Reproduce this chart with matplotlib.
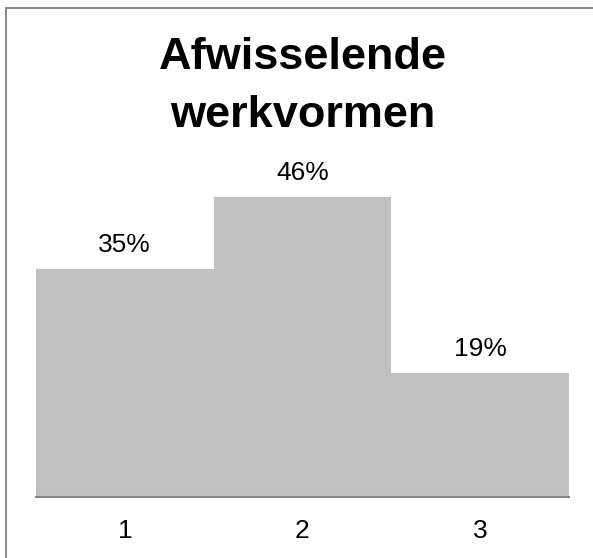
import matplotlib.pyplot as plt
from matplotlib.patches import Rectangle

categories = ["1", "2", "3"]
shares = [0.35, 0.46, 0.19]
value_labels = ["35%", "46%", "19%"]
title_lines = ["Afwisselende", "werkvormen"]

W, H = 593, 558

plt.rcParams["font.family"] = ["Liberation Sans", "DejaVu Sans"]

fig = plt.figure(figsize=(W / 100, H / 100), dpi=100)
fig.patch.set_facecolor("white")

# outer chart frame: only the top and left edges fall inside the image
fig.patches.append(Rectangle((5.5 / W, -0.1), 1.0, 1.1 - 8.5 / H,
                             transform=fig.transFigure, fill=False,
                             edgecolor="#868686", linewidth=1.4))

ax_left, ax_right, ax_bottom, ax_top = 36, 569, 497, 171
ax = fig.add_axes([ax_left / W, 1 - ax_bottom / H,
                   (ax_right - ax_left) / W, (ax_bottom - ax_top) / H])

x = list(range(len(categories)))
ax.bar(x, shares, width=1.0, color="#C0C0C0", edgecolor="none")
ax.set_xlim(-0.5, len(categories) - 0.5)
ax.set_ylim(0, 0.5)

for xi, v, lab in zip(x, shares, value_labels):
    ax.annotate(lab, (xi, v), xytext=(0, 12), textcoords="offset points",
                ha="center", va="baseline", fontsize=19, color="black")

for s in ["left", "right", "top"]:
    ax.spines[s].set_visible(False)
ax.spines["bottom"].set_color("#868686")
ax.spines["bottom"].set_linewidth(1.5)
ax.set_yticks([])
ax.set_xticks(x)
ax.set_xticklabels(categories, fontsize=19)
ax.tick_params(axis="x", length=0, pad=16)

for line, base in zip(title_lines, [69, 127]):
    fig.text(303 / W, 1 - base / H, line, ha="center", va="baseline",
             fontsize=32.5, fontweight="bold")

fig.savefig("out.png", dpi=100, facecolor="white")
plt.close(fig)
